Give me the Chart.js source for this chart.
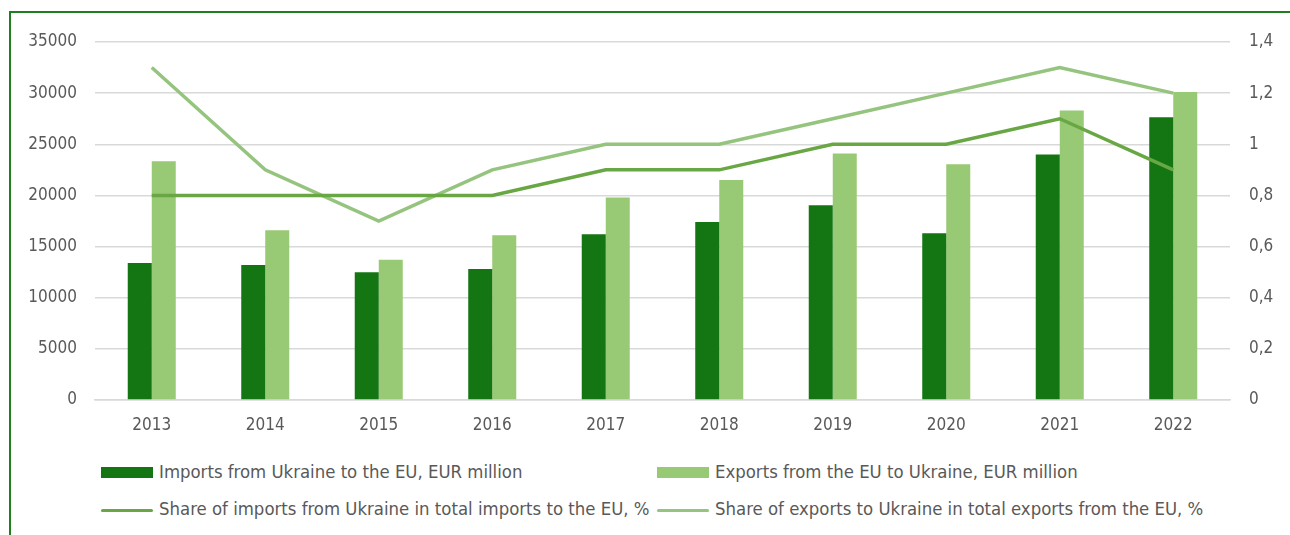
<!DOCTYPE html>
<html>
<head>
<meta charset="utf-8">
<script src="https://cdn.jsdelivr.net/npm/chart.js@4"></script>
<style>
  html, body { margin: 0; padding: 0; background: #fff; }
  #wrap { position: relative; width: 1290px; height: 535px; overflow: hidden; }
  #frame {
    position: absolute; left: 9px; top: 11px; width: 1400px; height: 700px;
    border-top: 2px solid #1f7f1f; border-left: 2px solid #1f7f1f;
  }
  #chart { position: absolute; left: 0; top: 0; }
  .lg { position: absolute; font-family: "DejaVu Sans Condensed", "DejaVu Sans", sans-serif;
        font-size: 18.4px; color: #595959; white-space: nowrap; line-height: 20px; }
  .sw { position: absolute; }
</style>
</head>
<body>
<div id="wrap">
  <div id="frame"></div>
  <canvas id="chart" width="1290" height="440"></canvas>
  <div id="legend"></div>
</div>
<script>
// ---------- DATA ----------
const years = ["2013", "2014", "2015", "2016", "2017", "2018", "2019", "2020", "2021", "2022"];
// EUR million
const importsEUR = [13400, 13200, 12500, 12800, 16200, 17400, 19050, 16300, 24000, 27650];
const exportsEUR = [23350, 16600, 13700, 16100, 19800, 21500, 24100, 23050, 28300, 30100];
// % shares, right axis
const importShare = [0.8, 0.8, 0.8, 0.8, 0.9, 0.9, 1.0, 1.0, 1.1, 0.9];
const exportShare = [1.3, 0.9, 0.7, 0.9, 1.0, 1.0, 1.1, 1.2, 1.3, 1.2];

const labels = {
  imp: "Imports from Ukraine to the EU, EUR million",
  exp: "Exports from the EU to Ukraine, EUR million",
  impShare: "Share of imports from Ukraine in total imports to the EU, %",
  expShare: "Share of exports to Ukraine in total exports from the EU, %",
};

const C_DARK = "#147613", C_LIGHT = "#98c974", C_LINE1 = "#68a744", C_LINE2 = "#95c47e";
const FONT = "'DejaVu Sans Condensed', 'DejaVu Sans', sans-serif";
const TXT = "#595959";

// comma decimal for the right axis, like the original
function commaFmt(v) {
  const r = Math.round(v * 10) / 10;
  return String(r).replace(".", ",");
}

const datasets = [
  { type: "line", label: labels.impShare, data: importShare, yAxisID: "y1",
    borderColor: C_LINE1, backgroundColor: C_LINE1, borderWidth: 3.5, pointRadius: 0, tension: 0, order: 1 },
  { type: "line", label: labels.expShare, data: exportShare, yAxisID: "y1",
    borderColor: C_LINE2, backgroundColor: C_LINE2, borderWidth: 3.5, pointRadius: 0, tension: 0, order: 2 },
  { type: "bar", label: labels.imp, data: importsEUR, yAxisID: "y",
    backgroundColor: C_DARK, categoryPercentage: 0.423, barPercentage: 1, order: 3 },
  { type: "bar", label: labels.exp, data: exportsEUR, yAxisID: "y",
    backgroundColor: C_LIGHT, categoryPercentage: 0.423, barPercentage: 1, order: 3 },
];

new Chart(document.getElementById("chart"), {
  data: { labels: years, datasets },
  options: {
    responsive: false,
    animation: false,
    layout: { padding: { top: 42, left: 0, right: 0, bottom: 0 } },
    plugins: { legend: { display: false }, tooltip: { enabled: false } },
    scales: {
      x: {
        grid: { display: false, drawTicks: false },
        border: { display: true, color: "#d9d9d9", width: 1.5 },
        ticks: { color: TXT, font: { family: FONT, size: 17 }, padding: 15 },
        afterFit: s => { s.height = 40; },
      },
      y: {
        position: "left", min: 0, max: 35000,
        ticks: { stepSize: 5000, color: TXT, font: { family: FONT, size: 17 }, padding: 18,
                 callback: v => String(v) },
        grid: { color: "#d9d9d9", lineWidth: 1.5, drawTicks: false },
        border: { display: false },
        afterFit: s => { s.width = 95; },
      },
      y1: {
        position: "right", min: 0, max: 1.4,
        ticks: { stepSize: 0.2, color: TXT, font: { family: FONT, size: 17 }, padding: 19, callback: commaFmt },
        grid: { display: false, drawTicks: false },
        border: { display: false },
        afterFit: s => { s.width = 60; },
      },
    },
  },
});

// ---------- LEGEND (2x2 grid like the source) ----------
const legendItems = [
  { ds: datasets[2], x: 101, y: 462, kind: "box" },
  { ds: datasets[3], x: 657, y: 462, kind: "box" },
  { ds: datasets[0], x: 101, y: 499, kind: "line" },
  { ds: datasets[1], x: 657, y: 499, kind: "line" },
];
const lg = document.getElementById("legend");
for (const it of legendItems) {
  const sw = document.createElement("div");
  sw.className = "sw";
  if (it.kind === "box") {
    sw.style.cssText = `left:${it.x}px;top:${it.y + 5}px;width:52px;height:11px;background:${it.ds.backgroundColor}`;
  } else {
    sw.style.cssText = `left:${it.x}px;top:${it.y + 9.5}px;width:52px;height:3.5px;border-radius:2px;background:${it.ds.borderColor}`;
  }
  lg.appendChild(sw);
  const t = document.createElement("div");
  t.className = "lg";
  t.style.left = (it.x + 58) + "px";
  t.style.top = it.y + "px";
  t.textContent = it.ds.label;
  lg.appendChild(t);
}
</script>
</body>
</html>
